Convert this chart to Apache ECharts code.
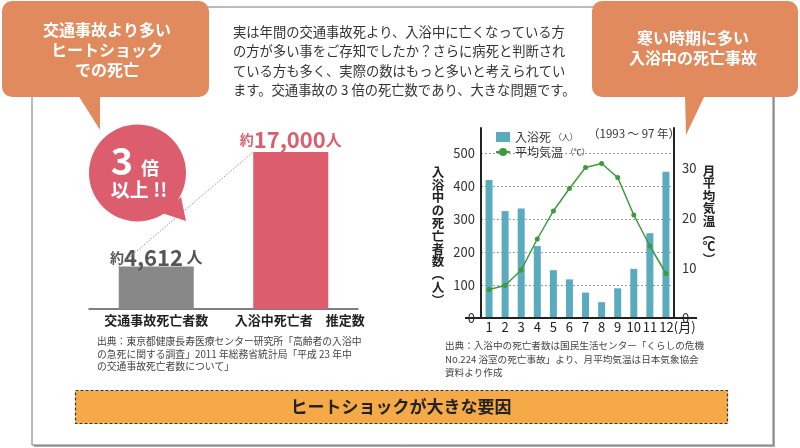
<!DOCTYPE html>
<html><head><meta charset="utf-8">
<script src="https://cdn.jsdelivr.net/npm/echarts@6/dist/echarts.min.js"></script>
<style>html,body{margin:0;padding:0;background:#fff}#c{width:800px;height:448px}</style>
</head><body><div id="c"></div>
<script>
// ---- data ----
const compareCategories = ['交通事故死亡者数', '入浴中死亡者　推定数'];
const compareValues = [4612, 17000];
const months = ['1','2','3','4','5','6','7','8','9','10','11','12'];
const bathDeaths = [418, 324, 332, 218, 145, 117, 77, 48, 90, 149, 257, 443];
const avgTemp = [5.7, 6.5, 9.6, 15.8, 21.4, 25.9, 30.1, 30.9, 28.1, 20.6, 14.4, 8.9];
const deathTickStep = 100;   // 0,100,...,500
const tempTickStep = 10;     // 0,10,20,30
const seriesNames = ['入浴死', '平均気温'];
const monthUnit = '(月)';

const F = '"Noto Sans CJK JP", "Noto Sans", sans-serif';
const PINK = '#dc5d6d';
const ORANGE = '#e08a5e';

const chart = echarts.init(document.getElementById('c'), null, {renderer: 'canvas'});

const T = (x, y, text, o) => Object.assign({type: 'text', x: x, y: y, z: 50,
  style: Object.assign({text: text, fontFamily: F, fontSize: 13, fill: '#333',
    align: 'center', verticalAlign: 'middle'}, o || {})});

const option = {
  backgroundColor: '#fff',
  animation: false,
  textStyle: {fontFamily: F},
  grid: [
    {left: 89, top: 152, width: 269, height: 157},
    {left: 481, top: 128, width: 193, height: 190}
  ],
  xAxis: [
    {gridIndex: 0, type: 'category', data: compareCategories,
     axisLine: {lineStyle: {color: '#555', width: 1.5}}, axisTick: {show: false},
     axisLabel: {interval: 0, hideOverlap: false, margin: 5, fontSize: 13, fontWeight: 'bold', color: '#222', fontFamily: F,
       formatter: function (v, i) { return i === 1 ? '{r|' + v + '}' : v; },
       rich: {r: {padding: [0, 0, 0, 18], fontSize: 13, fontWeight: 'bold', color: '#222', fontFamily: F}}}},
    {gridIndex: 1, type: 'category', data: months,
     axisLine: {lineStyle: {color: '#222', width: 2}}, axisTick: {show: false},
     axisLabel: {interval: 0, hideOverlap: false, margin: 3, fontSize: 13, color: '#222', fontFamily: F,
       formatter: function (v, i) { return i === months.length - 1 ? '{a|' + v + '}{m|' + monthUnit + '}' : v; },
       rich: {a: {padding: [0, 0, 0, 23], fontSize: 13, color: '#222', fontFamily: F},
              m: {fontSize: 13, color: '#222', fontFamily: F}}}}
  ],
  yAxis: [
    {gridIndex: 0, type: 'value', min: 0, max: 17000, show: false},
    {gridIndex: 1, type: 'value', min: 0, max: 576, interval: deathTickStep,
     axisLine: {show: true, lineStyle: {color: '#222', width: 2}}, axisTick: {show: false},
     splitLine: {show: true, showMaxLine: false, showMinLine: false, lineStyle: {color: '#999', type: [2, 2], width: 1}},
     axisLabel: {showMaxLabel: false, margin: 6, fontSize: 13, color: '#333', fontFamily: F, padding: [8, 0, 0, 0]}},
    {gridIndex: 1, type: 'value', min: 0, max: 38, interval: tempTickStep, position: 'right',
     axisLine: {show: true, lineStyle: {color: '#222', width: 2}}, axisTick: {show: false},
     splitLine: {show: false},
     axisLabel: {showMaxLabel: false, margin: 8, fontSize: 13, color: '#333', fontFamily: F}}
  ],
  legend: {
    orient: 'vertical', left: 490, top: 126, itemWidth: 14, itemHeight: 10, itemGap: 3,
    data: [{name: seriesNames[0], icon: 'rect'}, {name: seriesNames[1]}],
    formatter: function (n) { return n === seriesNames[0] ? n + ' {s|（人）}' : n + ' {s|（℃）}'; },
    textStyle: {fontSize: 12, color: '#333', fontFamily: F, rich: {s: {fontSize: 8, color: '#333', fontFamily: F}}}
  },
  series: [
    {type: 'bar', xAxisIndex: 0, yAxisIndex: 0, barWidth: 75,
     data: compareValues.map(function (v, i) {
       return {value: v, itemStyle: {color: i === 0 ? '#888888' : PINK},
         label: {distance: i === 0 ? -2 : 1}};
     }),
     label: {show: true, position: 'top',
       formatter: function (p) {
         const n = p.value.toLocaleString('en-US');
         return p.dataIndex === 0 ? '{gs|約}{gn|' + n + '}{gu| 人}' : '{ps|約}{pn|' + n + '}{pu|人}';
       },
       rich: {
         gs: {fontSize: 14, fontWeight: 'bold', color: '#555', fontFamily: F},
         gn: {fontSize: 22, fontWeight: 'bold', color: '#555', fontFamily: F},
         gu: {fontSize: 16, fontWeight: 'bold', color: '#555', fontFamily: F},
         ps: {fontSize: 14, fontWeight: 'bold', color: PINK, fontFamily: F},
         pn: {fontSize: 22, fontWeight: 'bold', color: PINK, fontFamily: F},
         pu: {fontSize: 16, fontWeight: 'bold', color: PINK, fontFamily: F}
       }}},
    {name: seriesNames[0], type: 'bar', xAxisIndex: 1, yAxisIndex: 1, barWidth: 7,
     itemStyle: {color: '#5aabbd'}, data: bathDeaths},
    {name: seriesNames[1], type: 'line', xAxisIndex: 1, yAxisIndex: 2, data: avgTemp,
     symbol: 'circle', symbolSize: 5, lineStyle: {color: '#3d9b3d', width: 1.5},
     itemStyle: {color: '#3d9b3d'}, z: 5}
  ],
  graphic: [
    // frame
    {type: 'rect', z: -20, shape: {x: 34, y: 9, width: 741, height: 438}, style: {fill: '#aaa'}},
    {type: 'rect', z: -19, shape: {x: 32, y: 7, width: 741, height: 438}, style: {fill: '#fff', stroke: '#777', lineWidth: 1}},
    // left callout
    {type: 'rect', z: 10, shape: {x: 2, y: 1, width: 207, height: 96, r: 10}, style: {fill: ORANGE}},
    {type: 'polygon', z: 10, shape: {points: [[78, 95], [100, 95], [100, 130]]}, style: {fill: ORANGE}},
    T(107, 50, '交通事故より多い\nヒートショック\nでの死亡', {fontSize: 16, fontWeight: 'bold', fill: '#fff', lineHeight: 20}),
    // right callout
    {type: 'rect', z: 10, shape: {x: 592, y: 1, width: 206, height: 96, r: 10}, style: {fill: ORANGE}},
    {type: 'polygon', z: 10, shape: {points: [[685, 95], [705, 95], [686, 135]]}, style: {fill: ORANGE}},
    T(693, 48, '寒い時期に多い\n入浴中の死亡事故', {fontSize: 16, fontWeight: 'bold', fill: '#fff', lineHeight: 20}),
    // paragraph
    T(233, 61, '実は年間の交通事故死より、入浴中に亡くなっている方\nの方が多い事をご存知でしたか？さらに病死と判断され\nている方も多く、実際の数はもっと多いと考えられてい\nます。交通事故の 3 倍の死亡数であり、大きな問題です。',
      {fontSize: 13.3, fill: '#333', align: 'left', lineHeight: 19.4}),
    // circle bubble
    {type: 'circle', z: 20, shape: {cx: 137.5, cy: 173, r: 48.5}, style: {fill: PINK}},
    {type: 'polygon', z: 20, shape: {points: [[162, 213], [181, 197], [186, 221]]}, style: {fill: PINK}},
    T(122, 161, '3', {fontSize: 38, fontWeight: 'bold', fill: '#fff'}),
    T(150, 168, '倍', {fontSize: 18, fontWeight: 'bold', fill: '#fff'}),
    T(139, 190, '以上 !!', {fontSize: 19, fontWeight: 'bold', fill: '#fff'}),
    // sources
    T(97, 354, '出典：東京都健康長寿医療センター研究所「高齢者の入浴中\nの急死に関する調査」2011 年総務省統計局「平成 23 年中\nの交通事故死亡者数について」',
      {fontSize: 9.8, fill: '#444', align: 'left', lineHeight: 12.6}),
    T(445, 359, '出典：入浴中の死亡者数は国民生活センター「くらしの危機\nNo.224 浴室の死亡事故」より、月平均気温は日本気象協会\n資料より作成',
      {fontSize: 9.6, fill: '#444', align: 'left', lineHeight: 13.5}),
    // right chart titles
    T(438, 236, '入\n浴\n中\nの\n死\n亡\n者\n数\n︵\n人\n︶', {fontSize: 12.5, fontWeight: 'bold', fill: '#222', lineHeight: 12.8}),
    T(709, 215, '月\n平\n均\n気\n温\n︵\n℃\n︶', {fontSize: 12.5, fontWeight: 'bold', fill: '#222', lineHeight: 12.6}),
    T(588, 134, '（1993 ～ 97 年）', {fontSize: 11.5, fill: '#333', align: 'left'}),
    // x-axis extension of right chart
    {type: 'line', z: 30, shape: {x1: 465, y1: 318, x2: 697, y2: 318}, style: {stroke: '#222', lineWidth: 2}},
    // banner
    {type: 'rect', z: 10, shape: {x: 75.5, y: 390.5, width: 652, height: 33}, style: {fill: '#f5aa47', stroke: '#333', lineWidth: 1.2, lineDash: [3, 2]}},
    T(401, 407, 'ヒートショックが大きな要因', {fontSize: 17, fontWeight: 'bold', fill: '#222'})
  ]
};
chart.setOption(option);

// dotted connector between the tops of the two comparison bars (from data via the axes)
const half = 75 / 2;
const pA = chart.convertToPixel({xAxisIndex: 0, yAxisIndex: 0}, [compareCategories[0], compareValues[0]]);
const pB = chart.convertToPixel({xAxisIndex: 0, yAxisIndex: 0}, [compareCategories[1], compareValues[1]]);
chart.setOption({graphic: option.graphic.concat([
  {type: 'line', z: 15, shape: {x1: pA[0] - half, y1: pA[1], x2: pB[0] - half, y2: pB[1]},
   style: {stroke: '#999', lineWidth: 1, lineDash: [1.5, 1.5]}}
])});
</script>
</body></html>
